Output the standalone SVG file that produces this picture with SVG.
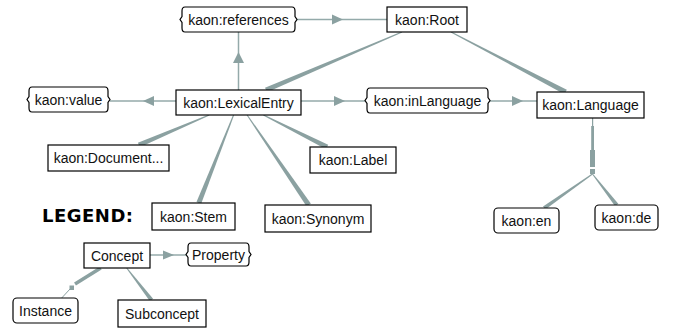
<svg xmlns="http://www.w3.org/2000/svg" width="675" height="330" viewBox="0 0 675 330">
<style>
  .c { fill: #fff; stroke: #000; stroke-width: 1.2; }
  .t { font-family: "Liberation Sans", Arial, sans-serif; font-size: 14px; fill: #111; text-anchor: middle; }
  .ln { stroke: #94aaaa; stroke-width: 1.5; fill: none; }
  .ah { fill: #8ba1a1; }
  .w { fill: #8ba1a1; }
  .leg { font-family: "DejaVu Sans", sans-serif; font-weight: bold; font-size: 18px; letter-spacing: 0.5px; fill: #000; }
</style>
<rect width="675" height="330" fill="#fff"/>
<g id="connectors">
  <!-- arrows -->
  <line class="ln" x1="238.5" y1="90" x2="238.5" y2="32"/>
  <polygon class="ah" points="238.5,52 233,63 244,63"/>
  <line class="ln" x1="297" y1="19.5" x2="387" y2="19.5"/>
  <polygon class="ah" points="343,19.5 332,14.5 332,24.5"/>
  <line class="ln" x1="110" y1="101" x2="176" y2="101"/>
  <polygon class="ah" points="143,101 154,96 154,106"/>
  <line class="ln" x1="301" y1="101" x2="365" y2="101"/>
  <polygon class="ah" points="345,101 334,96 334,106"/>
  <line class="ln" x1="490" y1="101" x2="537" y2="101"/>
  <polygon class="ah" points="523,101 512,96 512,106"/>
  <!-- tapered subconcept edges -->
  <polygon class="w" points="401.8,31.5 265.0,87.7 267.0,92.3 402.2,32.5"/>
  <polygon class="w" points="451.2,31.6 566.8,89.8 564.4,94.2 450.8,32.4"/>
  <polygon class="w" points="209.0,114.5 137.9,142.7 139.9,147.3 209.4,115.5"/>
  <polygon class="w" points="233.1,114.8 196.5,202.1 201.1,203.9 234.1,115.2"/>
  <polygon class="w" points="247.5,114.7 310.8,203.6 306.6,206.4 246.7,115.3"/>
  <polygon class="w" points="263.6,114.6 328.2,144.8 326.0,149.2 263.2,115.4"/>
  <!-- instance edges from Language -->
  <rect class="w" x="592" y="118" width="1.2" height="8"/>
  <rect class="w" x="591.2" y="126" width="2.8" height="24"/>
  <rect class="w" x="590" y="150" width="5" height="17"/>
  <rect class="w" x="590" y="169" width="5" height="5"/>
  <polygon class="w" points="592.2,173.6 543.0,206.4 545.3,209.6 592.8,174.4"/>
  <polygon class="w" points="592.9,173.7 618.3,203.8 615.1,206.2 592.1,174.3"/>
  <!-- legend edges -->
  <line class="ln" x1="150" y1="255" x2="186" y2="255"/>
  <polygon class="ah" points="174,255 163,250.5 163,259.5"/>
  <line x1="100.7" y1="268" x2="75" y2="284" stroke="#8ba1a1" stroke-width="3.5"/>
  <rect class="w" x="69.5" y="285.5" width="4.5" height="4.5"/>
  <line x1="70" y1="289" x2="61.7" y2="298" stroke="#8ba1a1" stroke-width="1"/>
  <polygon class="w" points="127.1,267.7 153.1,298.8 149.9,301.2 126.3,268.3"/>
</g>
<g id="n-references">
  <path class="c" d="M185,7 H292 Q295,7 295,11 V16.5 L297,19.5 L295,22.5 V28 Q295,32 292,32 H185 Q182,32 182,28 V22.5 L180,19.5 L182,16.5 V11 Q182,7 185,7 Z"/>
  <text class="t" x="238.5" y="24.5">kaon:references</text>
</g>
<g id="n-root">
  <rect class="c" x="387" y="7" width="80" height="25"/>
  <text class="t" x="427" y="24.5">kaon:Root</text>
</g>
<g id="n-value">
  <path class="c" d="M32,87 H105 Q108,87 108,91 V96.5 L110,99.5 L108,102.5 V108 Q108,112 105,112 H32 Q29,112 29,108 V102.5 L27,99.5 L29,96.5 V91 Q29,87 32,87 Z"/>
  <text class="t" x="68.5" y="104.5">kaon:value</text>
</g>
<g id="n-lexicalentry">
  <rect class="c" x="176" y="90" width="125" height="25"/>
  <text class="t" x="238.5" y="107.5">kaon:LexicalEntry</text>
</g>
<g id="n-inlanguage">
  <path class="c" d="M370,88 H485 Q488,88 488,92 V97.5 L490,100.5 L488,103.5 V109 Q488,113 485,113 H370 Q367,113 367,109 V103.5 L365,100.5 L367,97.5 V92 Q367,88 370,88 Z"/>
  <text class="t" x="427.5" y="105.5">kaon:inLanguage</text>
</g>
<g id="n-language">
  <rect class="c" x="537" y="92" width="107" height="26"/>
  <text class="t" x="590.5" y="110">kaon:Language</text>
</g>
<g id="n-document">
  <rect class="c" x="48" y="145" width="121" height="26"/>
  <text class="t" x="108.5" y="163">kaon:Document...</text>
</g>
<g id="n-label">
  <rect class="c" x="310" y="147" width="86" height="26"/>
  <text class="t" x="353" y="165">kaon:Label</text>
</g>
<g id="n-stem">
  <rect class="c" x="152" y="203" width="83" height="27"/>
  <text class="t" x="193.5" y="221.5">kaon:Stem</text>
</g>
<g id="n-synonym">
  <rect class="c" x="265" y="205" width="106" height="27"/>
  <text class="t" x="318" y="223.5">kaon:Synonym</text>
</g>
<g id="n-en">
  <rect class="c" x="494" y="208" width="65" height="25" rx="4"/>
  <text class="t" x="526.5" y="225.5">kaon:en</text>
</g>
<g id="n-de">
  <rect class="c" x="595" y="205" width="63" height="25" rx="4"/>
  <text class="t" x="626.5" y="222.5">kaon:de</text>
</g>
<text class="leg" x="42" y="222">LEGEND:</text>
<g id="n-concept">
  <rect class="c" x="84" y="243" width="66" height="25"/>
  <text class="t" x="117" y="260.5">Concept</text>
</g>
<g id="n-property">
  <path class="c" d="M191,243 H246 Q249,243 249,247 V251.5 L251,254.5 L249,257.5 V262 Q249,266 246,266 H191 Q188,266 188,262 V257.5 L186,254.5 L188,251.5 V247 Q188,243 191,243 Z"/>
  <text class="t" x="218.5" y="259.5">Property</text>
</g>
<g id="n-instance">
  <rect class="c" x="13" y="298" width="65" height="25" rx="4"/>
  <text class="t" x="45.5" y="315.5">Instance</text>
</g>
<g id="n-subconcept">
  <rect class="c" x="118" y="300" width="88" height="27"/>
  <text class="t" x="162" y="318.5">Subconcept</text>
</g>
</svg>
